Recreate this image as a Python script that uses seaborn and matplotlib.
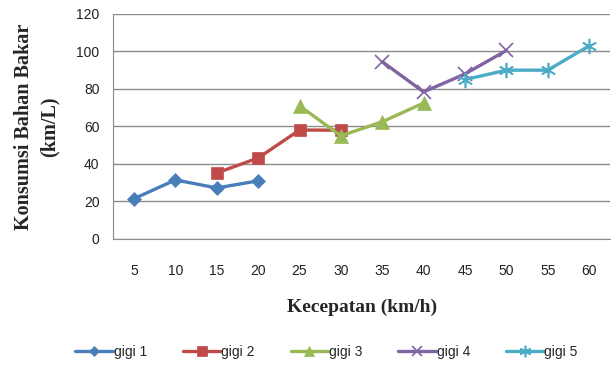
import matplotlib
matplotlib.use("Agg")
import matplotlib.pyplot as plt
import pandas as pd
import seaborn as sns

# speed (km/h) per gear and fuel consumption (km/L)
gigi1_x = [5, 10, 15, 20]
gigi1_y = [21.5, 31.5, 27.2, 31.0]
gigi2_x = [15, 20, 25, 30]
gigi2_y = [35.2, 43.2, 58.1, 58.0]
gigi3_x = [25, 30, 35, 40]
gigi3_y = [71.0, 55.0, 62.5, 72.5]
gigi4_x = [35, 40, 45, 50]
gigi4_y = [94.5, 78.4, 88.0, 100.5]
gigi5_x = [45, 50, 55, 60]
gigi5_y = [85.0, 90.0, 90.0, 103.0]

x_ticks = [5, 10, 15, 20, 25, 30, 35, 40, 45, 50, 55, 60]
y_ticks = [0, 20, 40, 60, 80, 100, 120]

series = [
    ("gigi 1", gigi1_x, gigi1_y, "#4A7EBB", "D", 7),
    ("gigi 2", gigi2_x, gigi2_y, "#BE4B48", "s", 9),
    ("gigi 3", gigi3_x, gigi3_y, "#98B954", "^", 10),
    ("gigi 4", gigi4_x, gigi4_y, "#8064A2", "x", 10),
    ("gigi 5", gigi5_x, gigi5_y, "#4BACC6", (6, 2, 0), 11),
]

sns.set_style("white")
plt.rcParams["font.family"] = ["Liberation Sans", "DejaVu Sans"]

fig = plt.figure(figsize=(6.16, 3.66), dpi=100)
ax = fig.add_axes([0.184, 0.347, 0.806, 0.615])

for name, xs, ys, color, marker, size in series:
    df = pd.DataFrame({"kecepatan": xs, "konsumsi": ys})
    sns.lineplot(data=df, x="kecepatan", y="konsumsi", ax=ax, color=color,
                 linewidth=2.4, marker=marker, markersize=size,
                 markeredgecolor=color, markeredgewidth=1.2 if marker in ("x", (6, 2, 0)) else 0.5,
                 label=name)

ax.set_xlim(2.5, 62.5)
ax.set_ylim(0, 120)
ax.set_xticks(x_ticks)
ax.set_yticks(y_ticks)
ax.tick_params(axis="both", length=0, labelsize=10, colors="#222222")
ax.tick_params(axis="y", pad=10)
ax.tick_params(axis="x", pad=18)
ax.grid(axis="y", color="#8c8c8c", linewidth=1.0)
ax.set_axisbelow(True)
for side in ["top", "right"]:
    ax.spines[side].set_visible(False)
ax.spines["left"].set_color("#8c8c8c")
ax.spines["bottom"].set_color("#8c8c8c")

serif = ["Liberation Serif", "DejaVu Serif"]
ax.set_xlabel("Kecepatan (km/h)", family=serif, fontweight="bold", fontsize=14, labelpad=15)
ax.set_ylabel("Konsumsi Bahan Bakar\n(km/L)", family=serif, fontweight="bold", fontsize=14.5,
              labelpad=12, linespacing=1.4)

ax.legend(loc="center", bbox_to_anchor=(0.53, 0.038), bbox_transform=fig.transFigure,
          ncol=5, frameon=False, fontsize=10, handlelength=2.7, columnspacing=2.6,
          handletextpad=0.05, markerscale=0.75)

fig.savefig("out.png", dpi=100)
